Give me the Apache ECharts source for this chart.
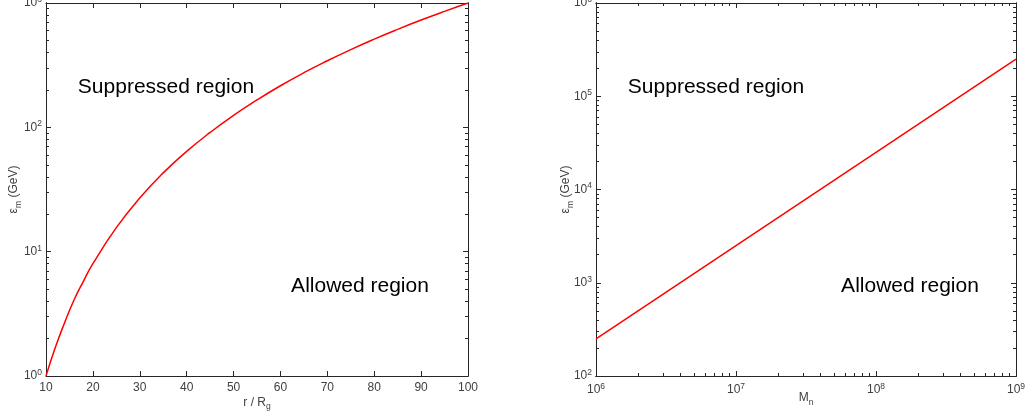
<!DOCTYPE html>
<html>
<head>
<meta charset="utf-8">
<script src="https://cdn.jsdelivr.net/npm/echarts@6/dist/echarts.min.js"></script>
<style>html,body{margin:0;padding:0;background:#fff}#c{width:1029px;height:416px}</style>
</head>
<body>
<div id="c"></div>
<script>
// Left panel: epsilon_m vs r/R_g
var rValues = [10, 12, 14, 16, 18, 20, 25, 30, 35, 40, 45, 50, 55, 60, 65, 70, 75, 80, 85, 90, 95, 100];
var epsLeft = [1, 1.7, 2.7, 4.1, 5.8, 8, 15.6, 27, 43, 64, 91, 125, 166, 216, 275, 343, 422, 512, 614, 729, 857, 1000];
// Right panel: epsilon_m vs M_n
var mValues = [1e6, 1e7, 1e8, 1e9];
var epsRight = [250, 2500, 25000, 250000];
var leftXTicks = [10, 20, 30, 40, 50, 60, 70, 80, 90, 100];
var leftYDecades = [0, 1, 2, 3];
var rightXDecades = [6, 7, 8, 9];
var rightYDecades = [2, 3, 4, 5, 6];

var AX = '#262626', LBL = '#404040';
var FONT = 'Liberation Sans, Arial, Helvetica, sans-serif';

function minorLog(decades) {
  var out = [];
  for (var i = 0; i < decades.length - 1; i++) {
    for (var k = 2; k <= 9; k++) out.push(decades[i] + Math.log10(k));
  }
  return out;
}
var supRich = {
  b: {fontSize: 12, color: LBL, fontFamily: FONT},
  s: {fontSize: 8.5, color: LBL, fontFamily: FONT, verticalAlign: 'top', padding: [0, 0, 7, 0]}
};
function powFmt(v) {
  var n = Math.round(Math.log10(v));
  return '{b|10}{s|' + n + '}';
}

var grids = [
  {left: 46, top: 3, width: 422, height: 373, outerBoundsMode: 'none', containLabel: false},
  {left: 596, top: 3, width: 420, height: 373, outerBoundsMode: 'none', containLabel: false}
];

function decoAxis(gridIndex, min, max, pos, custom, len) {
  return {
    type: 'value', gridIndex: gridIndex, position: pos, min: min, max: max,
    axisLine: {show: true, onZero: false, lineStyle: {color: AX, width: 1}},
    axisTick: {show: true, inside: true, length: len, customValues: custom, lineStyle: {color: AX}},
    axisLabel: {show: false}, splitLine: {show: false}
  };
}
var subName = function (pad) {
  return {rich: {a: {fontSize: 12, color: LBL, fontFamily: FONT}, sub: {fontSize: 8.5, color: LBL, fontFamily: FONT, verticalAlign: 'bottom', padding: [pad, 0, 0, 0]}}};
};

var xAxes = [
  {
    type: 'value', gridIndex: 0, min: 10, max: 100, interval: 10, position: 'bottom',
    name: '{a|r / R}{sub|g}', nameLocation: 'middle', nameGap: 18, nameMoveOverlap: false, nameTextStyle: subName(8),
    axisLine: {show: true, onZero: false, lineStyle: {color: AX}},
    axisTick: {show: true, inside: true, length: 5, lineStyle: {color: AX}},
    axisLabel: {color: LBL, fontSize: 12, fontFamily: FONT, margin: 6},
    splitLine: {show: false}
  },
  {
    type: 'value', gridIndex: 0, min: 10, max: 100, interval: 10, position: 'top',
    axisLine: {show: true, onZero: false, lineStyle: {color: AX}},
    axisTick: {show: true, inside: true, length: 5, lineStyle: {color: AX}},
    axisLabel: {show: false}, splitLine: {show: false}
  },
  {
    type: 'log', logBase: 10, gridIndex: 1, min: 1e6, max: 1e9, position: 'bottom',
    name: '{a|M}{sub|n}', nameLocation: 'middle', nameGap: 12, nameMoveOverlap: false, nameTextStyle: subName(10),
    axisLine: {show: true, onZero: false, lineStyle: {color: AX}},
    axisTick: {show: false},
    axisLabel: {formatter: powFmt, rich: supRich, margin: 6, hideOverlap: false},
    splitLine: {show: false}
  },
  decoAxis(1, 6, 9, 'bottom', rightXDecades, 5),
  decoAxis(1, 6, 9, 'bottom', minorLog(rightXDecades), 3),
  decoAxis(1, 6, 9, 'top', rightXDecades, 5),
  decoAxis(1, 6, 9, 'top', minorLog(rightXDecades), 3)
];

var yLabel = {formatter: powFmt, rich: supRich, margin: 4, hideOverlap: false, showMinLabel: true, showMaxLabel: true};

var yAxes = [
  {
    type: 'log', logBase: 10, gridIndex: 0, min: 1, max: 1000, position: 'left',
    name: '{a|ε}{sub|m}{a| (GeV)}', nameLocation: 'middle', nameGap: 23, nameMoveOverlap: false, nameRotate: 90, nameTextStyle: subName(9),
    axisLine: {show: true, onZero: false, lineStyle: {color: AX}},
    axisTick: {show: false},
    axisLabel: yLabel,
    splitLine: {show: false}
  },
  decoAxis(0, 0, 3, 'left', leftYDecades, 5),
  decoAxis(0, 0, 3, 'left', minorLog(leftYDecades), 3),
  decoAxis(0, 0, 3, 'right', leftYDecades, 5),
  decoAxis(0, 0, 3, 'right', minorLog(leftYDecades), 3),
  {
    type: 'log', logBase: 10, gridIndex: 1, min: 100, max: 1e6, position: 'left',
    name: '{a|ε}{sub|m}{a| (GeV)}', nameLocation: 'middle', nameGap: 21, nameMoveOverlap: false, nameRotate: 90, nameTextStyle: subName(9),
    axisLine: {show: true, onZero: false, lineStyle: {color: AX}},
    axisTick: {show: false},
    axisLabel: yLabel,
    splitLine: {show: false}
  },
  decoAxis(1, 2, 6, 'left', rightYDecades, 5),
  decoAxis(1, 2, 6, 'left', minorLog(rightYDecades), 3),
  decoAxis(1, 2, 6, 'right', rightYDecades, 5),
  decoAxis(1, 2, 6, 'right', minorLog(rightYDecades), 3)
];

function pairs(xs, ys) { return xs.map(function (x, i) { return [x, ys[i]]; }); }

var textStyle = {fontSize: 21, fill: '#000', fontFamily: FONT, textAlign: 'center', textVerticalAlign: 'middle'};
var option = {
  backgroundColor: '#fff',
  animation: false,
  grid: grids,
  xAxis: xAxes,
  yAxis: yAxes,
  series: [
    {type: 'line', xAxisIndex: 0, yAxisIndex: 0, data: pairs(rValues, epsLeft), smooth: true, showSymbol: false, lineStyle: {color: '#ff0000', width: 1.5}},
    {type: 'line', xAxisIndex: 2, yAxisIndex: 5, data: pairs(mValues, epsRight), showSymbol: false, lineStyle: {color: '#ff0000', width: 1.5}}
  ],
  graphic: [
    {type: 'text', x: 166, y: 87, style: Object.assign({text: 'Suppressed region'}, textStyle)},
    {type: 'text', x: 360, y: 286, style: Object.assign({text: 'Allowed region'}, textStyle)},
    {type: 'text', x: 716, y: 87, style: Object.assign({text: 'Suppressed region'}, textStyle)},
    {type: 'text', x: 910, y: 286, style: Object.assign({text: 'Allowed region'}, textStyle)}
  ]
};
var chart = echarts.init(document.getElementById('c'));
chart.setOption(option);
</script>
</body>
</html>
